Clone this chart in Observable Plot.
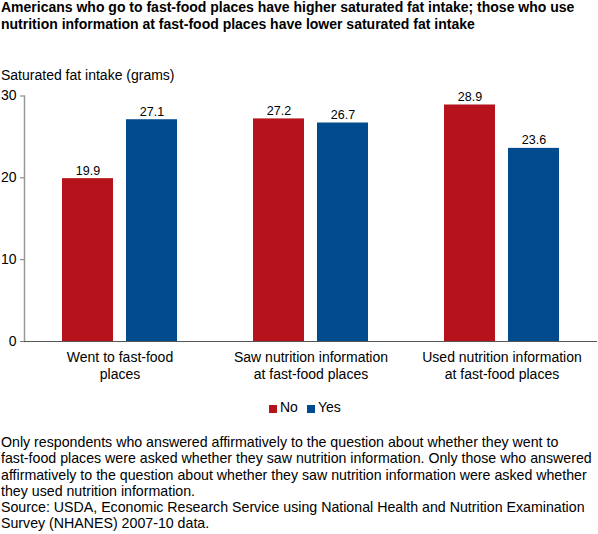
<!DOCTYPE html>
<html><head><meta charset="utf-8">
<script src="https://cdn.jsdelivr.net/npm/d3@7"></script>
<script src="https://cdn.jsdelivr.net/npm/@observablehq/plot@0.6"></script>
<style>
html,body{margin:0;padding:0;background:#fff;font-family:"Liberation Sans",Arial,sans-serif;color:#000;width:598px;overflow:hidden}
#title{font-weight:bold;font-size:14px;line-height:17px;position:absolute;left:1px;top:-1px;width:597px;white-space:pre}
#unit{font-size:14px;line-height:16px;position:absolute;left:1px;top:67px;white-space:pre}
#chart{position:absolute;left:0;top:85px}
#legend{position:absolute;left:269px;top:399px;font-size:14px;line-height:16px;white-space:pre}
#legend span.s{display:inline-block;width:8px;height:8px;margin-right:3px;vertical-align:-0.5px}
#note{position:absolute;left:1px;top:434px;font-size:14.2px;line-height:16.3px;white-space:pre}
</style></head><body>
<div id="title"></div><div id="unit"></div><div id="chart"></div><div id="legend"></div><div id="note"></div>
<script>
const titleLines = ["Americans who go to fast-food places have higher saturated fat intake; those who use","nutrition information at fast-food places have lower saturated fat intake"];
const unitLabel = "Saturated fat intake (grams)";
const categories = ["Went to fast-food\nplaces","Saw nutrition information\nat fast-food places","Used nutrition information\nat fast-food places"];
const seriesNames = ["No","Yes"];
const seriesColors = ["#b5121b","#004b8d"];
const noValues = [19.9,27.2,28.9];
const yesValues = [27.1,26.7,23.6];
const yTicks = [0,10,20,30];
const noteLines = ["Only respondents who answered affirmatively to the question about whether they went to","fast-food places were asked whether they saw nutrition information. Only those who answered","affirmatively to the question about whether they saw nutrition information were asked whether","they used nutrition information.","Source: USDA, Economic Research Service using National Health and Nutrition Examination","Survey (NHANES) 2007-10 data."];

const rows = categories.flatMap((c,i)=>[
  {cat:c,series:"No",value:noValues[i]},
  {cat:c,series:"Yes",value:yesValues[i]}
]);
document.getElementById("title").textContent = titleLines.join("\n");
document.getElementById("unit").textContent = unitLabel;
document.getElementById("note").textContent = noteLines.join("\n");
document.getElementById("legend").innerHTML = seriesNames.map((s,i)=>`<span class="s" style="background:${seriesColors[i]}"></span>${s}`).join('<span style="display:inline-block;width:9px"></span>');

const plot = Plot.plot({
  width:598, height:320,
  marginLeft:24, marginRight:1, marginTop:10.5, marginBottom:64,
  style:{fontFamily:'"Liberation Sans",Arial,sans-serif',fontSize:"14px",color:"#000",background:"#fff"},
  fx:{domain:categories,padding:0,round:false,label:null,axis:null},
  x:{domain:seriesNames,paddingInner:0.203,paddingOuter:0.594,round:false,axis:null,label:null},
  y:{domain:[0,30],ticks:yTicks,label:null,axis:null},
  color:{domain:seriesNames,range:seriesColors},
  marks:[
    Plot.barY(rows,{fx:"cat",x:"series",y:"value",fill:"series"}),
    Plot.text(rows,{fx:"cat",x:"series",y:"value",text:d=>d.value.toFixed(1),dy:-8,fontSize:12.5,fill:"#000"}),
    Plot.axisFx({anchor:"bottom",domain:categories,label:null,tickSize:0,tickPadding:9,lineHeight:1.17,fontSize:14,fill:"#000"}),
    Plot.axisY({ticks:yTicks,label:null,tickSize:4,tickPadding:4,stroke:"#777",fill:"#000",fontSize:14,tickFormat:d=>String(d)}),
    Plot.frame({anchor:"left",facetAnchor:"left",stroke:"#999",strokeWidth:1.5}),
    Plot.ruleY([0],{stroke:"#555",strokeWidth:1})
  ]
});
document.getElementById("chart").appendChild(plot);
</script>
</body></html>
